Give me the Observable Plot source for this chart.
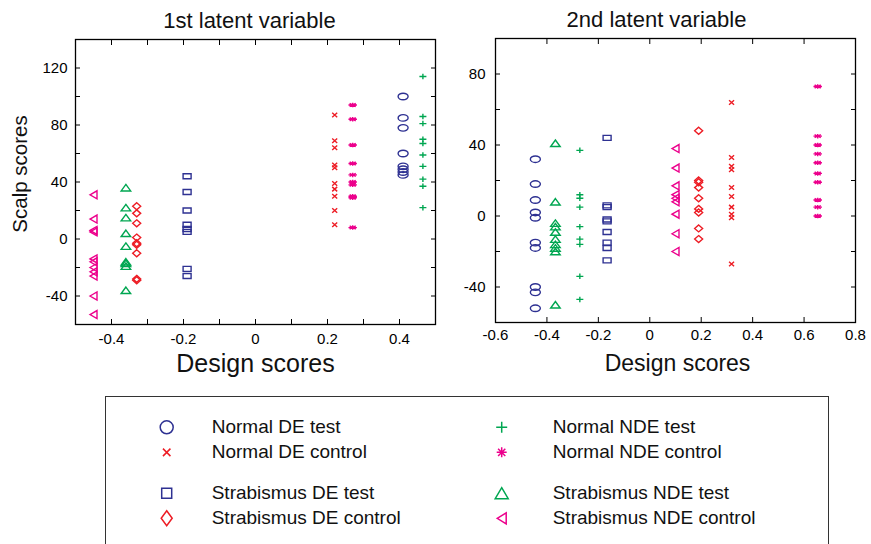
<!DOCTYPE html>
<html><head><meta charset="utf-8">
<script src="https://cdn.jsdelivr.net/npm/d3@7"></script>
<script src="https://cdn.jsdelivr.net/npm/@observablehq/plot@0.6"></script>
<style>
html,body{margin:0;padding:0;background:#fff;overflow:hidden;}
#root{position:relative;width:871px;height:544px;overflow:hidden;font-family:"Liberation Sans",Arial,Helvetica,sans-serif;}
.panel{position:absolute;top:0;}
#legend{position:absolute;left:105px;top:396px;width:722px;height:170px;border:1.5px solid #333;}
</style></head><body><div id="root"><div id="p1" class="panel" style="left:0px"></div><div id="p2" class="panel" style="left:450px"></div><div id="legend"></div></div>
<script>
// ---- data ----
const groups = ["Normal DE test","Normal DE control","Strabismus DE test","Strabismus DE control",
                "Normal NDE test","Normal NDE control","Strabismus NDE test","Strabismus NDE control"];
const groupColors = ["#2e3192","#ed1c24","#2e3192","#ed1c24","#00a651","#ec008c","#00a651","#ec008c"];
const groupSymbols = ["circle","times","square","diamond","plus","asterisk","triangle","triangleLeft"];

// 1st latent variable: design score per group, scalp scores per group
const lv1Design = [0.41, 0.22, -0.19, -0.33, 0.465, 0.27, -0.36, -0.45];
const lv1NormalDEtest = [100, 85, 78, 60, 51, 49, 47, 45];
const lv1NormalDEcontrol = [87, 69, 64, 52, 50, 39, 35, 30, 20, 10];
const lv1StrabDEtest = [44, 33, 20, 10, 7, 5, -21, -26];
const lv1StrabDEcontrol = [23, 18, 11, 1, -3, -4, -10, -28, -29];
const lv1NormalNDEtest = [114, 86, 81, 70, 67, 59, 51, 42, 37, 22];
const lv1NormalNDEcontrol = [94, 84, 66, 53, 45, 40, 38, 30, 29, 8];
const lv1StrabNDEtest = [36, 22, 15, 4, -5, -16, -17, -19, -36];
const lv1StrabNDEcontrol = [31, 14, 6, 5, -14, -16, -20, -23, -26, -40, -53];

// 2nd latent variable
const lv2Design = [-0.445, 0.318, -0.166, 0.19, -0.272, 0.653, -0.367, 0.1];
const lv2NormalDEtest = [32, 18, 9, 2, -1, -15, -18, -40, -43, -52];
const lv2NormalDEcontrol = [64, 33, 28, 26, 16, 11, 5, 1, -1, -27];
const lv2StrabDEtest = [44, 6, 5, -2, -3, -9, -15, -18, -25];
const lv2StrabDEcontrol = [48, 20, 19, 16, 10, 4, 2, -7, -13];
const lv2NormalNDEtest = [37, 12, 10, 5, -6, -13, -16, -34, -47];
const lv2NormalNDEcontrol = [73, 45, 40, 35, 30, 24, 19, 9, 5, 0];
const lv2StrabNDEtest = [41, 8, -4, -6, -9, -13, -16, -18, -20, -50];
const lv2StrabNDEcontrol = [38, 27, 17, 12, 10, 8, 1, -10, -20];

// ticks
const lv1XTicks = [-0.5, -0.4, -0.3, -0.2, -0.1, 0, 0.1, 0.2, 0.3, 0.4, 0.5];
const lv1XLabels = [-0.4, -0.2, 0, 0.2, 0.4];
const lv1YTicks = [-60, -40, -20, 0, 20, 40, 60, 80, 100, 120, 140];
const lv1YLabels = [-40, 0, 40, 80, 120];
const lv2XTicks = [-0.6, -0.4, -0.2, 0, 0.2, 0.4, 0.6, 0.8];
const lv2XLabels = [-0.6, -0.4, -0.2, 0, 0.2, 0.4, 0.6, 0.8];
const lv2YTicks = [-60, -40, -20, 0, 20, 40, 60, 80, 100];
const lv2YLabels = [-40, 0, 40, 80];

// ---- symbols ----
function makeSymbol(kind, w, h) {
  const a = w / 2, b = h / 2;
  return {draw(c) {
    switch (kind) {
      case "circle": { const k = 0.5523;
        c.moveTo(a, 0); c.bezierCurveTo(a, k*b, k*a, b, 0, b); c.bezierCurveTo(-k*a, b, -a, k*b, -a, 0);
        c.bezierCurveTo(-a, -k*b, -k*a, -b, 0, -b); c.bezierCurveTo(k*a, -b, a, -k*b, a, 0); c.closePath(); break; }
      case "square": c.moveTo(-a, -b); c.lineTo(a, -b); c.lineTo(a, b); c.lineTo(-a, b); c.closePath(); break;
      case "diamond": c.moveTo(0, -b); c.lineTo(a, 0); c.lineTo(0, b); c.lineTo(-a, 0); c.closePath(); break;
      case "triangle": c.moveTo(0, -b); c.lineTo(a, b); c.lineTo(-a, b); c.closePath(); break;
      case "triangleLeft": c.moveTo(-a, 0); c.lineTo(a, -b); c.lineTo(a, b); c.closePath(); break;
      case "times": c.moveTo(-a, -b); c.lineTo(a, b); c.moveTo(a, -b); c.lineTo(-a, b); break;
      case "plus": c.moveTo(-a, 0); c.lineTo(a, 0); c.moveTo(0, -b); c.lineTo(0, b); break;
      case "asterisk":
        c.moveTo(-a, 0); c.lineTo(a, 0); c.moveTo(0, -b); c.lineTo(0, b);
        c.moveTo(-a*0.72, -b*0.72); c.lineTo(a*0.72, b*0.72); c.moveTo(a*0.72, -b*0.72); c.lineTo(-a*0.72, b*0.72); break;
    }
  }};
}
const chartSize = {circle:[10,6.5], times:[5,4.5], square:[8,5], diamond:[8,7], plus:[7,5.5], asterisk:[8.5,4.5], triangle:[9.5,6.5], triangleLeft:[7,8]};
const legendSize = {circle:[13,13], times:[7.5,7.5], square:[10,10], diamond:[11,15], plus:[11,11], asterisk:[10,10], triangle:[13,11], triangleLeft:[9,11]};

const FONT = "Liberation Sans, Arial, Helvetica, sans-serif";
const fmt = d => String(+d.toFixed(1));

function makePanel(cfg) {
  const rows = [];
  groups.forEach((g, i) => cfg.ys[i].forEach(v => rows.push({gi: i, x: cfg.xs[i], y: v})));
  const marks = [
    Plot.axisX(cfg.xTicks, {anchor: "bottom", tickSize: -5, tickPadding: cfg.xPad, label: null, fontSize: 15,
      tickFormat: d => cfg.xLabels.includes(d) ? fmt(d) : ""}),
    Plot.axisX(cfg.xTicks, {anchor: "top", tickSize: -5, label: null, tickFormat: () => ""}),
    Plot.axisY(cfg.yTicks, {anchor: "left", tickSize: -5, tickPadding: cfg.yPad, label: null, fontSize: 15,
      tickFormat: d => cfg.yLabels.includes(d) ? String(d) : ""}),
    Plot.axisY(cfg.yTicks, {anchor: "right", tickSize: -5, label: null, tickFormat: () => ""}),
    Plot.frame({stroke: "#000", strokeWidth: 1.3}),
    ...groups.map((g, i) => Plot.dot(rows.filter(r => r.gi === i), {
      x: "x", y: "y", symbol: makeSymbol(groupSymbols[i], ...chartSize[groupSymbols[i]]),
      stroke: groupColors[i], fill: "none", strokeWidth: 1.4})),
    Plot.text([cfg.title], {text: d => d, frameAnchor: "top", lineAnchor: "middle", textAnchor: "middle",
      dx: cfg.titleDx, dy: -19, fontSize: 22, fill: "#111"}),
    Plot.text(["Design scores"], {text: d => d, frameAnchor: "bottom", lineAnchor: "middle", textAnchor: "middle",
      dx: cfg.xlabDx, dy: cfg.xlabDy, fontSize: cfg.xlabSize, fill: "#111"})
  ];
  if (cfg.ylabel) marks.push(Plot.text([cfg.ylabel], {text: d => d, frameAnchor: "left", lineAnchor: "middle", textAnchor: "middle",
    rotate: -90, dx: -55, dy: -8, fontSize: 20.5, fill: "#111"}));
  return Plot.plot({
    width: cfg.width, height: 390,
    marginLeft: cfg.ml, marginRight: cfg.mr, marginTop: cfg.mt, marginBottom: 390 - cfg.fb,
    x: {domain: cfg.xDomain, label: null},
    y: {domain: cfg.yDomain, label: null},
    style: {fontFamily: FONT, fontSize: "15px", color: "#000", background: "transparent", overflow: "visible"},
    marks
  });
}

document.getElementById("p1").appendChild(makePanel({
  width: 450, ml: 75, mr: 15, mt: 39, fb: 324,
  xDomain: [-0.5, 0.5], yDomain: [-60, 140],
  xTicks: lv1XTicks, xLabels: lv1XLabels, yTicks: lv1YTicks, yLabels: lv1YLabels,
  xPad: 14, yPad: 13,
  xs: lv1Design,
  ys: [lv1NormalDEtest, lv1NormalDEcontrol, lv1StrabDEtest, lv1StrabDEcontrol, lv1NormalNDEtest, lv1NormalNDEcontrol, lv1StrabNDEtest, lv1StrabNDEcontrol],
  title: "1st latent variable", titleDx: -6, xlabDx: 0, xlabDy: 39, xlabSize: 25, ylabel: "Scalp scores"
}));
document.getElementById("p2").appendChild(makePanel({
  width: 421, ml: 45, mr: 16, mt: 38, fb: 322,
  xDomain: [-0.6, 0.8], yDomain: [-60, 100],
  xTicks: lv2XTicks, xLabels: lv2XLabels, yTicks: lv2YTicks, yLabels: lv2YLabels,
  xPad: 12, yPad: 15,
  xs: lv2Design,
  ys: [lv2NormalDEtest, lv2NormalDEcontrol, lv2StrabDEtest, lv2StrabDEcontrol, lv2NormalNDEtest, lv2NormalNDEcontrol, lv2StrabNDEtest, lv2StrabNDEcontrol],
  title: "2nd latent variable", titleDx: -19, xlabDx: 2, xlabDy: 41, xlabSize: 23, ylabel: null
}));

// ---- legend ----
const legendRows = groups.map((g, i) => ({name: g, gi: i, col: i >= 4 ? 1 : 0, row: i % 4}));
const legendY = d => d.row + (d.row >= 2 ? 0.63 : 0);
const LH = 150;
document.getElementById("legend").appendChild(Plot.plot({
  width: 722, height: LH,
  marginLeft: 60.2, marginRight: 722 - 395.2, marginTop: 29.8, marginBottom: LH - 120.8,
  x: {domain: [0, 1], axis: null},
  y: {domain: [0, 3.63], axis: null, reverse: true},
  style: {fontFamily: FONT, fontSize: "19px", color: "#000", background: "transparent", overflow: "visible"},
  marks: [
    ...legendRows.map(r => Plot.dot([r], {x: "col", y: legendY,
      symbol: makeSymbol(groupSymbols[r.gi], ...legendSize[groupSymbols[r.gi]]),
      stroke: groupColors[r.gi], fill: "none", strokeWidth: 1.5})),
    Plot.text(legendRows.filter(r => r.col === 0), {x: "col", y: legendY, text: "name", textAnchor: "start", dx: 45, fontSize: 19, fill: "#111"}),
    Plot.text(legendRows.filter(r => r.col === 1), {x: "col", y: legendY, text: "name", textAnchor: "start", dx: 51, fontSize: 19, fill: "#111"})
  ]
}));
</script></body></html>
